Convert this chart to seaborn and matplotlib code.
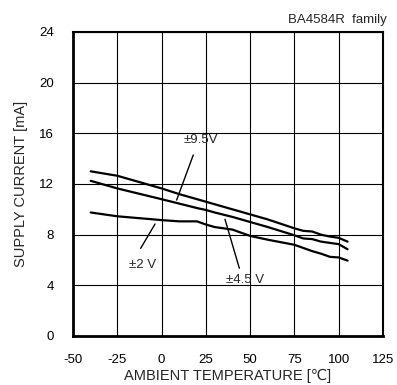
import pandas as pd
import matplotlib
matplotlib.use("Agg")
import matplotlib.pyplot as plt
import seaborn as sns

# temperatures [degC] and supply current [mA]
temp = [-40, -25, 0, 10, 20, 25, 30, 40, 50, 60, 75, 80, 85, 90, 95, 100, 105]
i_9v5 = [13.0, 12.65, 11.65, 11.2, 10.8, 10.6, 10.4, 10.0, 9.6, 9.2, 8.5, 8.3, 8.25, 8.0, 7.85, 7.75, 7.45]
i_4v5 = [12.25, 11.65, 10.8, 10.45, 10.1, 9.95, 9.75, 9.4, 9.0, 8.6, 7.95, 7.7, 7.65, 7.45, 7.35, 7.25, 6.85]
i_2v = [9.75, 9.45, 9.15, 9.05, 9.05, 8.8, 8.6, 8.4, 7.9, 7.6, 7.2, 6.95, 6.7, 6.5, 6.25, 6.2, 5.95]

x_ticks = [-50, -25, 0, 25, 50, 75, 100, 125]
y_ticks = [0, 4, 8, 12, 16, 20, 24]

df = pd.DataFrame({"temp": temp, "9.5": i_9v5, "4.5": i_4v5, "2": i_2v})
long = df.melt(id_vars="temp", var_name="vcc", value_name="current")

sns.set_style("white")
plt.rcParams["font.family"] = ["Liberation Sans", "DejaVu Sans"]

fig = plt.figure(figsize=(3.97, 3.85), dpi=100)
ax = fig.add_axes([0.1839, 0.1273, 0.7808, 0.7896])

sns.lineplot(data=long, x="temp", y="current", units="vcc", estimator=None,
             color="black", linewidth=1.6, ax=ax)

ax.set_xlim(-50, 125)
ax.set_ylim(0, 24)
ax.set_xticks(x_ticks)
ax.set_yticks(y_ticks)
ax.set_xticklabels([str(t) for t in x_ticks], fontsize=9.5)
ax.set_yticklabels([str(t) for t in y_ticks], fontsize=9.5)
ax.grid(True, color="black", linewidth=0.8)
ax.tick_params(direction="in", length=3, width=1, colors="black")
ax.tick_params(axis="x", pad=13)
ax.tick_params(axis="y", pad=14)

for side in ["left", "bottom"]:
    ax.spines[side].set_linewidth(2)
for side in ["top", "right"]:
    ax.spines[side].set_linewidth(1.5)
for s in ax.spines.values():
    s.set_color("black")

ax.set_xlabel("AMBIENT TEMPERATURE [\u2103]", fontsize=10.5, labelpad=2)
ax.set_ylabel("SUPPLY CURRENT [mA]", fontsize=10.5, labelpad=8)

# labels with leader lines
ax.plot([17.9, 8.5], [14.29, 10.73], color="black", linewidth=1)
ax.text(22.3, 15.5, "\u00b19.5V", fontsize=9.5, ha="center", va="center")
ax.plot([-3.7, -11.8], [8.84, 6.92], color="black", linewidth=1)
ax.text(-10.8, 5.6, "\u00b12 V", fontsize=9.5, ha="center", va="center")
ax.plot([35.8, 43.9], [9.21, 5.35], color="black", linewidth=1)
ax.text(47.1, 4.42, "\u00b14.5 V", fontsize=9.5, ha="center", va="center")

fig.text(0.975, 0.947, "BA4584R  family", fontsize=9.5, ha="right", va="center")

fig.savefig("out.png", dpi=100)
